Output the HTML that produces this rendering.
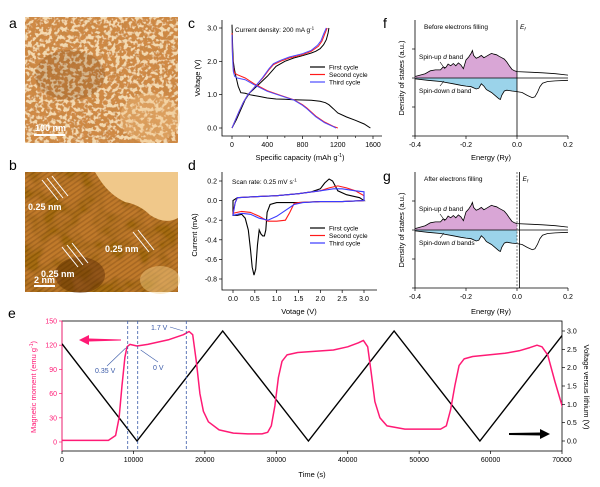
<!DOCTYPE html>
<html><head><meta charset="utf-8">
<style>
html,body{margin:0;padding:0;background:#fff;}
body{width:600px;height:482px;overflow:hidden;font-family:"Liberation Sans",Arial,sans-serif;}
svg text{font-family:"Liberation Sans",Arial,sans-serif;}
</style></head>
<body>
<svg id="fig" width="600" height="482" viewBox="0 0 600 482" xmlns="http://www.w3.org/2000/svg">
<defs>
<filter id="semTex" x="0" y="0" width="100%" height="100%">
<feTurbulence type="fractalNoise" baseFrequency="0.22" numOctaves="2" seed="3" result="n"/>
<feColorMatrix in="n" type="matrix" values="0 0 0 0 0.45  0 0 0 0 0.22  0 0 0 0 0.05  7 0 0 0 -3.2" result="c"/>
<feComposite in="c" in2="SourceGraphic" operator="atop"/>
</filter>
<filter id="semTex2" x="0" y="0" width="100%" height="100%">
<feTurbulence type="fractalNoise" baseFrequency="0.25" numOctaves="2" seed="11" result="n"/>
<feColorMatrix in="n" type="matrix" values="0 0 0 0 1  0 0 0 0 0.85  0 0 0 0 0.6  7 0 0 0 -3.4" result="c"/>
<feComposite in="c" in2="SourceGraphic" operator="atop"/>
</filter>
<filter id="temTex" x="0" y="0" width="100%" height="100%">
<feTurbulence type="fractalNoise" baseFrequency="0.05" numOctaves="2" seed="7" result="n"/>
<feColorMatrix in="n" type="matrix" values="0 0 0 0 0.3  0 0 0 0 0.12  0 0 0 0 0.0  4 0 0 0 -1.6" result="c"/>
<feComposite in="c" in2="SourceGraphic" operator="atop"/>
</filter>
<pattern id="lattice" width="4" height="4" patternUnits="userSpaceOnUse" patternTransform="rotate(-35)">
<rect width="4" height="1.6" fill="rgba(60,25,0,0.45)"/>
</pattern>
<clipPath id="clipE"><rect x="62" y="321" width="500" height="130"/></clipPath>
</defs>

<!-- Panel a -->
<text x="9" y="28" font-size="14">a</text>
<g>
<rect x="25" y="17" width="153" height="126" fill="#d08a45"/>
<rect x="25" y="17" width="153" height="126" fill="#d08a45" filter="url(#semTex)"/>
<rect x="25" y="17" width="153" height="126" fill="#d08a45" filter="url(#semTex2)" opacity="0.8"/>
<ellipse cx="150" cy="118" rx="30" ry="25" fill="#f3c58a" opacity="0.35"/>
<ellipse cx="70" cy="75" rx="35" ry="25" fill="#6a3508" opacity="0.2"/>
</g>
<rect x="34" y="134" width="31" height="2" fill="#fff"/>
<text x="35" y="131" font-size="9" font-weight="bold" fill="#fff">100 nm</text>

<!-- Panel b -->
<text x="9" y="170" font-size="14">b</text>
<g>
<rect x="25" y="172" width="153" height="120" fill="#c07a2c"/>
<rect x="25" y="172" width="153" height="120" fill="url(#lattice)"/>
<rect x="25" y="172" width="153" height="120" fill="#c07a2c" filter="url(#temTex)" opacity="0.6"/>
<path d="M95 172 L178 172 L178 218 Q165 225 150 215 Q140 205 125 202 Q110 195 100 180 Z" fill="#f0c88a"/>
<ellipse cx="80" cy="275" rx="25" ry="18" fill="#5a2a05" opacity="0.45"/>
<ellipse cx="160" cy="280" rx="20" ry="14" fill="#f6d08a" opacity="0.45"/>
</g>
<g stroke="#fff" stroke-width="1" fill="none">
<path d="M42 180 L58 200 M47 178 L63 198 M52 176 L68 196"/>
<path d="M62 247 L78 267 M67 245 L83 265 M72 243 L88 263"/>
<path d="M133 232 L149 252 M138 230 L154 250"/>
</g>
<text x="28" y="210" font-size="9" font-weight="bold" fill="#fff">0.25 nm</text>
<text x="41" y="277" font-size="9" font-weight="bold" fill="#fff">0.25 nm</text>
<text x="105" y="252" font-size="9" font-weight="bold" fill="#fff">0.25 nm</text>
<rect x="34" y="285" width="21" height="2" fill="#fff"/>
<text x="34" y="283" font-size="9" font-weight="bold" fill="#fff">2 nm</text>

<text x="188" y="28" font-size="14">c</text>
<text x="188" y="170" font-size="14">d</text>
<text x="383" y="28" font-size="14">f</text>
<text x="383" y="181" font-size="14">g</text>
<text x="8" y="318" font-size="14">e</text>

<g id="charts"></g>
</svg>

<script>
// ---------- Panel c data ----------
const cTicksX=[0,400,800,1200,1600];
const cTicksY=[0.0,1.0,2.0,3.0];
const c1DisCap=[0,8,15,25,40,70,100,150,200,300,400,500,600,700,800,900,1000,1060,1100,1150,1200,1300,1400,1500,1570];
const c1DisV=[3.1,2.4,2.0,1.8,1.6,1.25,1.06,1.04,1.0,0.95,0.9,0.87,0.86,0.85,0.84,0.83,0.8,0.76,0.7,0.58,0.45,0.33,0.23,0.12,0.0];
const c1ChCap=[0,50,100,150,200,300,400,450,500,600,700,800,900,950,1000,1040,1070,1090,1100];
const c1ChV=[0,0.25,0.55,0.85,1.05,1.3,1.55,1.7,1.85,2.0,2.1,2.17,2.25,2.3,2.38,2.5,2.65,2.85,3.0];
const c2DisCap=[0,5,15,30,60,150,250,400,550,700,800,850,900,950,1050,1150,1200];
const c2DisV=[2.85,2.3,1.8,1.65,1.6,1.5,1.33,1.12,0.98,0.85,0.7,0.6,0.48,0.36,0.18,0.05,0.0];
const c2ChCap=[0,40,80,130,180,280,350,420,470,550,650,800,900,980,1020,1050,1080];
const c2ChV=[0,0.25,0.5,0.78,1.0,1.3,1.5,1.75,1.9,2.0,2.1,2.2,2.3,2.45,2.6,2.8,3.0];
const c3DisCap=[0,5,15,30,60,150,250,400,550,700,800,850,900,950,1050,1150,1180];
const c3DisV=[2.8,2.2,1.7,1.55,1.5,1.45,1.3,1.1,0.97,0.84,0.68,0.58,0.46,0.34,0.16,0.04,0.0];
const c3ChCap=[0,40,80,130,180,280,350,420,470,550,650,800,900,970,1010,1040,1070];
const c3ChV=[0,0.25,0.5,0.78,1.0,1.3,1.52,1.78,1.93,2.03,2.13,2.23,2.33,2.48,2.62,2.82,3.0];

// ---------- Panel d data ----------
const dTicksX=[0,0.5,1.0,1.5,2.0,2.5,3.0];
const dTicksY=[-0.8,-0.6,-0.4,-0.2,0.0,0.2];
const d1V=[3.0,2.5,2.0,1.5,1.0,0.85,0.78,0.75,0.72,0.68,0.64,0.6,0.56,0.52,0.48,0.44,0.4,0.35,0.28,0.2,0.1,0.0,0.0,0.1,0.5,1.0,1.5,1.8,2.0,2.1,2.2,2.28,2.4,2.6,2.8,2.9,3.0];
const d1I=[0.0,-0.01,-0.01,-0.02,-0.02,-0.04,-0.12,-0.3,-0.36,-0.36,-0.34,-0.3,-0.45,-0.7,-0.76,-0.68,-0.5,-0.3,-0.18,-0.14,-0.15,-0.15,0.0,0.03,0.04,0.05,0.07,0.09,0.12,0.18,0.22,0.2,0.1,0.06,0.04,0.03,0.0];
const d2V=[3.0,2.5,2.0,1.5,1.4,1.3,1.2,1.0,0.8,0.6,0.4,0.2,0.0,0.05,0.1,0.5,1.0,1.5,2.0,2.2,2.4,2.6,2.8,3.0,3.0];
const d2I=[0.0,-0.01,-0.01,-0.02,-0.03,-0.12,-0.2,-0.21,-0.21,-0.16,-0.12,-0.11,-0.13,-0.02,0.03,0.04,0.05,0.07,0.1,0.13,0.15,0.13,0.1,0.05,0.0];
const d3V=[3.0,2.5,2.0,1.6,1.4,1.2,1.0,0.8,0.6,0.4,0.2,0.0,0.05,0.1,0.5,1.0,1.5,2.0,2.3,2.5,2.8,3.0,3.0];
const d3I=[0.0,-0.01,-0.01,-0.02,-0.04,-0.1,-0.16,-0.2,-0.18,-0.14,-0.13,-0.15,-0.02,0.03,0.04,0.05,0.07,0.1,0.12,0.12,0.1,0.09,0.0];

// ---------- Panels f/g data ----------
const fTicksX=[-0.4,-0.2,0.0,0.2];
const upE=[-0.4,-0.36,-0.34,-0.32,-0.3,-0.29,-0.28,-0.27,-0.26,-0.25,-0.24,-0.23,-0.22,-0.21,-0.2,-0.19,-0.18,-0.175,-0.17,-0.16,-0.15,-0.14,-0.13,-0.12,-0.11,-0.1,-0.09,-0.08,-0.07,-0.06,-0.05,-0.04,-0.03,-0.02,-0.01,0.0,0.05,0.1,0.15,0.2];
const upD=[0.05,0.15,0.25,0.28,0.28,0.38,0.35,0.48,0.42,0.5,0.42,0.52,0.45,0.32,0.62,0.72,0.85,0.95,0.78,0.68,0.72,0.78,0.7,0.75,0.8,0.85,0.82,0.8,0.75,0.7,0.65,0.55,0.42,0.3,0.25,0.22,0.2,0.18,0.15,0.1];
const dnE=[-0.4,-0.35,-0.3,-0.25,-0.22,-0.2,-0.18,-0.16,-0.15,-0.14,-0.13,-0.12,-0.1,-0.08,-0.07,-0.065,-0.06,-0.05,-0.04,-0.02,0.0,0.02,0.04,0.06,0.07,0.08,0.09,0.1,0.12,0.15,0.2];
const dnD=[-0.03,-0.08,-0.12,-0.2,-0.25,-0.28,-0.3,-0.38,-0.35,-0.2,-0.28,-0.4,-0.5,-0.65,-0.72,-0.74,-0.6,-0.45,-0.42,-0.45,-0.47,-0.5,-0.6,-0.68,-0.65,-0.5,-0.3,-0.18,-0.12,-0.1,-0.08];

// ---------- Panel e data ----------
const eTicksX=[0,10000,20000,30000,40000,50000,60000,70000];
const eTicksM=[0,30,60,90,120,150];
const eTicksV=[0.0,0.5,1.0,1.5,2.0,2.5,3.0];
const magT=[0,6500,7500,8000,8400,8800,9100,9500,10500,12000,15000,17000,17800,18300,18800,19300,19800,20500,22000,24000,26000,28000,28800,29300,29800,30300,30800,31500,33000,38000,40000,41500,42200,42800,43300,43800,44500,45500,48000,53000,53800,54400,55000,55600,56300,57500,62000,64000,65500,66500,67200,68000,69000,70500];
const magM=[2,2,8,30,70,105,118,121,119,121,127,133,137,133,100,60,38,25,15,11,10,10,12,20,45,80,100,108,111,114,118,123,126,118,85,50,30,20,16,16,20,40,70,95,103,106,110,113,117,120,118,108,75,30];
const voltT=[0,10500,22500,34500,46500,58500,70500];
const voltV=[2.65,0,3.0,0,3.0,0,3.0];
const eMarks=[9200,10600,17400];

const NS="http://www.w3.org/2000/svg";
const root=document.getElementById('charts');
function mk(tag,attrs,parent){const e=document.createElementNS(NS,tag);for(const k in attrs)e.setAttribute(k,attrs[k]);(parent||root).appendChild(e);return e;}
function lin(d0,d1,r0,r1){return v=>r0+(v-d0)*(r1-r0)/(d1-d0);}
function pathD(xs,ys,sx,sy){return xs.map((x,i)=>(i?'L':'M')+sx(x).toFixed(1)+' '+sy(ys[i]).toFixed(1)).join(' ');}
function txt(x,y,s,size,attrs,parent){const t=mk('text',Object.assign({x:x,y:y,'font-size':size},attrs||{}),parent);t.textContent=s;return t;}

// ======== Panel c ========
(function(){
 const g=mk('g',{});
 
 
 const sx=lin(0,1600,232,373), sy=lin(0,3,128,28);
 mk('path',{d:'M222 20 L222 136 L382 136',stroke:'#000','stroke-width':0.8,fill:'none'},g);
 cTicksX.forEach(v=>{mk('line',{x1:sx(v),x2:sx(v),y1:136,y2:139,stroke:'#000','stroke-width':0.7},g);
  const t=txt(sx(v),147,v,7,{'text-anchor':'middle'},g);
  
  });
 [200,600,1000,1400].forEach(v=>mk('line',{x1:sx(v),x2:sx(v),y1:136,y2:138,stroke:'#000','stroke-width':0.6},g));
 cTicksY.forEach(v=>{mk('line',{x1:219,x2:222,y1:sy(v),y2:sy(v),stroke:'#000','stroke-width':0.7},g);
  const t=txt(217,sy(v)+2.5,v.toFixed(1),7,{'text-anchor':'end'},g);
  
  });
 const xl=txt(300,160,'',7.5,{'text-anchor':'middle'},g);
 xl.innerHTML='Specific capacity (mAh g<tspan font-size="5" dy="-3">-1</tspan><tspan dy="3">)</tspan>';
 
 
 const yl=txt(0,0,'Voltage (V)',7.5,{'text-anchor':'middle',transform:'translate(200 78) rotate(-90)'},g);
 
 
 const ann=txt(235,32,'',6.5,{},g);
 ann.innerHTML='Current density: 200 mA g<tspan font-size="4.5" dy="-2.5">-1</tspan>';
 
 
 const series=[[c1DisCap,c1DisV,c1ChCap,c1ChV,'#000','First cycle'],[c2DisCap,c2DisV,c2ChCap,c2ChV,'#ff1a1a','Second cycle'],[c3DisCap,c3DisV,c3ChCap,c3ChV,'#4b4bff','Third cycle']];
 series.forEach((s,i)=>{
  const p1=mk('path',{d:pathD(s[0],s[1],sx,sy),stroke:s[4],'stroke-width':1,fill:'none'},g);
  
  
  const p2=mk('path',{d:pathD(s[2],s[3],sx,sy),stroke:s[4],'stroke-width':1,fill:'none'},g);
  
  
  const ly=67+i*7.5;
  const l=mk('line',{x1:310,x2:325,y1:ly,y2:ly,stroke:s[4],'stroke-width':1.2},g);
  
  
  const t=txt(329,ly+2.3,s[5],6.5,{},g);
  
  
 });
})();

// ======== Panel d ========
(function(){
 const g=mk('g',{});
 
 
 const sx=lin(0,3,233,364), sy=lin(0,-0.8,200.6,279);
 mk('path',{d:'M222 172 L222 290 L377 290',stroke:'#000','stroke-width':0.8,fill:'none'},g);
 dTicksX.forEach(v=>{mk('line',{x1:sx(v),x2:sx(v),y1:290,y2:293,stroke:'#000','stroke-width':0.7},g);
  const t=txt(sx(v),301,v.toFixed(1),7,{'text-anchor':'middle'},g);
  
  });
 dTicksY.forEach(v=>{mk('line',{x1:219,x2:222,y1:sy(v),y2:sy(v),stroke:'#000','stroke-width':0.7},g);
  const t=txt(217,sy(v)+2.5,v.toFixed(1),7,{'text-anchor':'end'},g);
  
  });
 const xl=txt(299,314,'Votage (V)',7.5,{'text-anchor':'middle'},g);
 
 
 const yl=txt(0,0,'Current (mA)',7.5,{'text-anchor':'middle',transform:'translate(197 235) rotate(-90)'},g);
 
 
 const ann=txt(232,184,'',6.5,{},g);
 ann.innerHTML='Scan rate: 0.25 mV s<tspan font-size="4.5" dy="-2.5">-1</tspan>';
 
 
 const series=[[d1V,d1I,'#000','First cycle'],[d2V,d2I,'#ff1a1a','Second cycle'],[d3V,d3I,'#3a3aff','Third cycle']];
 series.forEach((s,i)=>{
  const p=mk('path',{d:pathD(s[0],s[1],sx,sy)+' Z',stroke:s[2],'stroke-width':1.1,fill:'none'},g);
  
  
  const ly=228+i*7.5;
  const l=mk('line',{x1:310,x2:325,y1:ly,y2:ly,stroke:s[2],'stroke-width':1.2},g);
  
  
  const t=txt(329,ly+2.3,s[3],6.5,{},g);
  
  
 });
})();

// ======== Panels f & g ========
function dos(top,bottom,zero,efX,dashed,title,dnLabel,suffix){
 const g=mk('g',{});
 
 
 const sx=lin(-0.4,0.2,415,568), sy=v=>zero-v*29;
 mk('path',{d:`M415 ${top} L415 ${bottom} L568 ${bottom}`,stroke:'#000','stroke-width':0.8,fill:'none'},g);
 [1,-1,-2].forEach(k=>mk('line',{x1:412,x2:415,y1:zero-k*29,y2:zero-k*29,stroke:'#000','stroke-width':0.7},g));
 mk('line',{x1:412,x2:415,y1:zero,y2:zero,stroke:'#000','stroke-width':0.7},g);
 fTicksX.forEach(v=>{mk('line',{x1:sx(v),x2:sx(v),y1:bottom,y2:bottom+3,stroke:'#000','stroke-width':0.7},g);
  const t=txt(sx(v),bottom+11,v.toFixed(1),7,{'text-anchor':'middle'},g);
  
  });
 const ue=[],ud=[];upE.forEach((e,i)=>{if(e<=0){ue.push(e);ud.push(upD[i]);}});
 const de=[],dd=[];dnE.forEach((e,i)=>{if(e<=0){de.push(e);dd.push(dnD[i]);}});
 const fu=mk('path',{d:pathD(ue,ud,sx,sy)+` L${sx(0)} ${zero} L${sx(-0.4)} ${zero} Z`,fill:'#d9a6d6',stroke:'none'},g);
 
 
 const fd=mk('path',{d:pathD(de,dd,sx,sy)+` L${sx(0)} ${zero} L${sx(-0.4)} ${zero} Z`,fill:'#9bd3ea',stroke:'none'},g);
 
 
 const lu=mk('path',{d:pathD(upE,upD,sx,sy),stroke:'#000','stroke-width':0.8,fill:'none'},g);
 
 
 const ld=mk('path',{d:pathD(dnE,dnD,sx,sy),stroke:'#000','stroke-width':0.8,fill:'none'},g);
 
 
 mk('line',{x1:415,x2:568,y1:zero,y2:zero,stroke:'#000','stroke-width':0.8},g);
 if(dashed){mk('line',{x1:sx(0),x2:sx(0),y1:top,y2:bottom,stroke:'#555','stroke-width':0.8,'stroke-dasharray':'2,1.5'},g);}
 const ef=mk('line',{x1:sx(efX),x2:sx(efX),y1:top,y2:bottom,stroke:'#000','stroke-width':0.8},g);
 
 
 const eft=txt(sx(efX)+3,top+9,'',6.5,{'font-style':'italic'},g);
 eft.innerHTML='E<tspan font-size="4.5" dy="1.5">f</tspan>';
 
 
 const tt=txt(424,top+9,title,6.5,{},g);
 
 
 const u=txt(419,zero-19,'',6.5,{},g);u.innerHTML='Spin-up <tspan font-style="italic">d</tspan> band';
 
 
 const dl=txt(419,zero+15,'',6.5,{},g);dl.innerHTML='Spin-down <tspan font-style="italic">d</tspan> '+dnLabel;
 
 
 mk('path',{d:`M440 ${zero-16} L445 ${zero-9}`,stroke:'#000','stroke-width':0.6},g);
 mk('path',{d:`M440 ${zero+8} L444 ${zero+3}`,stroke:'#000','stroke-width':0.6},g);
 const yl=txt(0,0,'Density of states (a.u.)',7.5,{'text-anchor':'middle',transform:`translate(404 ${(top+bottom)/2}) rotate(-90)`},g);
 
 
 const xl=txt(491,suffix==='f'?160:314,'Energy (Ry)',7.5,{'text-anchor':'middle'},g);
 
 
}
dos(20,136,78,0,false,'Before electrons filling','band','f');
dos(172,288,230,0.01,true,'After electrons filling','bands','g');

// ======== Panel e ========
(function(){
 const g=mk('g',{});
 
 
 const sx=lin(0,70000,62,562), sm=lin(0,150,442,321), sv=lin(0,3,441,331);
 const pink='#ff1a75', blue='#3a5aa8';
 mk('rect',{x:62,y:321,width:500,height:130,fill:'none',stroke:'#000','stroke-width':0.8},g);
 mk('line',{x1:62,x2:62,y1:321,y2:451,stroke:pink,'stroke-width':0.9},g);
 eTicksX.forEach(v=>{mk('line',{x1:sx(v),x2:sx(v),y1:451,y2:454,stroke:'#000','stroke-width':0.7},g);
  const t=txt(sx(v),462,v,7,{'text-anchor':'middle'},g);
  
  });
 eTicksM.forEach(v=>{mk('line',{x1:59,x2:62,y1:sm(v),y2:sm(v),stroke:pink,'stroke-width':0.7},g);
  const t=txt(57,sm(v)+2.5,v,7,{'text-anchor':'end',fill:pink},g);
  
  });
 eTicksV.forEach(v=>{mk('line',{x1:562,x2:565,y1:sv(v),y2:sv(v),stroke:'#000','stroke-width':0.7},g);
  const t=txt(567,sv(v)+2.5,v.toFixed(1),7,{},g);
  
  });
 const xl=txt(312,477,'Time (s)',7.5,{'text-anchor':'middle'},g);
 
 
 const yl=txt(0,0,'',7.5,{'text-anchor':'middle',fill:pink,transform:'translate(36 387) rotate(-90)'},g);
 yl.innerHTML='Magnetic moment (emu g<tspan font-size="5" dy="-3">-1</tspan><tspan dy="3">)</tspan>';
 
 
 const yr=txt(0,0,'Voltage versus lithium (V)',7.5,{'text-anchor':'middle',transform:'translate(584 387) rotate(90)'},g);
 
 
 const cg=mk('g',{'clip-path':'url(#clipE)'},g);
 const vl=mk('path',{d:pathD(voltT,voltV,sx,sv),stroke:'#000','stroke-width':1.4,fill:'none'},cg);
 
 
 const ml=mk('path',{d:pathD(magT,magM,sx,sm),stroke:pink,'stroke-width':1.5,fill:'none','stroke-linejoin':'round'},cg);
 
 
 eMarks.forEach(t=>{const l=mk('line',{x1:sx(t),x2:sx(t),y1:321,y2:451,stroke:blue,'stroke-width':0.8,'stroke-dasharray':'3,2'},g);
  
  });
 const a1=txt(95,373,'0.35 V',7,{fill:blue},g);
 
 
 mk('path',{d:`M107 366 L${sx(9200)-2} 348`,stroke:blue,'stroke-width':0.6,fill:'none'},g);
 const a2=txt(153,370,'0 V',7,{fill:blue},g);
 
 
 mk('path',{d:`M158 362 L${sx(10600)+3} 350`,stroke:blue,'stroke-width':0.6,fill:'none'},g);
 const a3=txt(151,330,'1.7 V',7,{fill:blue},g);
 
 
 mk('path',{d:`M170 327 L${sx(17400)-3} 331`,stroke:blue,'stroke-width':0.6,fill:'none'},g);
 const pa=mk('path',{d:'M79 340 L89 335 L89 338.5 L121 339.5 L121 340.5 L89 341.5 L89 345 Z',fill:pink},g);
 
 
 const ba=mk('path',{d:'M509 433 L540 432.5 L540 429 L550 434 L540 439 L540 435.5 L509 435 Z',fill:'#000'},g);
 
 
})();
</script>
</body></html>
